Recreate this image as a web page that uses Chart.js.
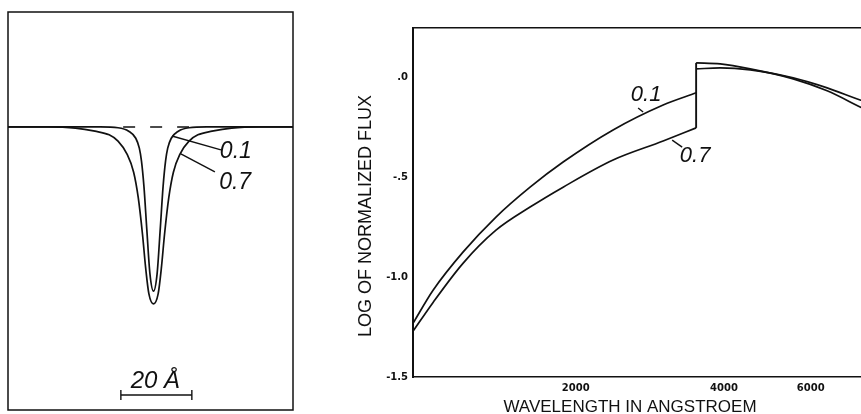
<!DOCTYPE html>
<html><head><meta charset="utf-8">
<script src="https://cdn.jsdelivr.net/npm/chart.js@4.4.0/dist/chart.umd.min.js"></script>
<style>
html,body{margin:0;padding:0;width:861px;height:414px;overflow:hidden;background:#fff;}
#left{position:absolute;left:0;top:0;}
#right{position:absolute;left:340px;top:0;}
</style></head><body>
<canvas id="left" width="300" height="414"></canvas>
<canvas id="right" width="580" height="432"></canvas>
<script>
// ---------- Left panel: line profiles (offset from line centre in Å, residual flux) ----------
const profileOffsets01 = [-41, -15, -10, -7.0, -5.0, -4.0, -3.4, -2.7, -1.9, -1.0, 0, 1.0, 1.9, 2.7, 3.4, 4.0, 5.0, 7.0, 10, 15, 39.3];
const profileFlux01    = [1.0, 1.0, 0.997, 0.985, 0.960, 0.925, 0.880, 0.790, 0.640, 0.480, 0.420, 0.480, 0.640, 0.790, 0.880, 0.925, 0.960, 0.985, 0.997, 1.0, 1.0];
const profileOffsets07 = [-41, -30, -22, -16.5, -12.5, -10.0, -7.5, -5.6, -4.3, -3.1, -2.2, -1.3, 0, 1.3, 2.2, 3.1, 4.3, 5.6, 7.5, 10.0, 12.5, 16.5, 22, 30, 39.3];
const profileFlux07    = [1.0, 1.0, 0.996, 0.985, 0.972, 0.950, 0.905, 0.840, 0.750, 0.620, 0.500, 0.410, 0.375, 0.410, 0.500, 0.620, 0.750, 0.840, 0.905, 0.950, 0.972, 0.985, 0.996, 1.0, 1.0];
const continuumOffsets = [-8.56, 10.0];
const continuumFlux    = [1.0, 1.0];
const scaleBarOffsets  = [-9.2, 10.8];
const scaleBarFlux     = [0.053, 0.053];
const scaleBarText     = '20 Å';

// ---------- Right panel: log of normalized flux vs wavelength ----------
const waveUV      = [935, 1027, 1181, 1378, 1616, 1886, 2382, 3010, 3512];
const logFlux01UV = [-1.231, -1.065, -0.874, -0.698, -0.548, -0.422, -0.261, -0.136, -0.075];
const logFlux07UV = [-1.271, -1.126, -0.930, -0.764, -0.648, -0.548, -0.412, -0.317, -0.251];
const waveVis      = [3512, 3930, 4522, 5528, 6479, 7559, 7778];
const logFlux01Vis = [0.045, 0.050, 0.040, 0.000, -0.050, -0.111, -0.121];
const logFlux07Vis = [0.075, 0.070, 0.045, -0.005, -0.065, -0.146, -0.161];
const xTickValues = [2000, 4000, 6000];
const xTickLabels = ['2000', '4000', '6000'];
const yTickValues = [0, -0.5, -1.0, -1.5];
const yTickLabels = ['.0', '-.5', '-1.0', '-1.5'];
const seriesNames = ['0.1', '0.7'];

const pts = (xs, ys) => xs.map((x, i) => ({x: x, y: ys[i]}));
const INK = '#111';

// annotation anchors (data coordinates)
const leftAnnot = [
  {text: seriesNames[0], x: 23.2, y: 0.912, lead: [[5.2, 0.968], [19.0, 0.919]]},
  {text: seriesNames[1], x: 23.0, y: 0.802, lead: [[7.7, 0.905], [17.3, 0.841]]}
];
const rightAnnot = [
  {text: seriesNames[0], x: 2780, y: -0.085, lead: [[2678, -0.151], [2741, -0.171]]},
  {text: seriesNames[1], x: 3496, y: -0.392, lead: [[3140, -0.312], [3290, -0.347]]}
];

function drawAnnots(chart, list, font) {
  const ctx = chart.ctx, xs = chart.scales.x, ys = chart.scales.y;
  ctx.save();
  ctx.strokeStyle = INK; ctx.fillStyle = INK; ctx.lineWidth = 1.4;
  ctx.font = font; ctx.textAlign = 'center'; ctx.textBaseline = 'middle';
  list.forEach(a => {
    ctx.beginPath();
    ctx.moveTo(xs.getPixelForValue(a.lead[0][0]), ys.getPixelForValue(a.lead[0][1]));
    ctx.lineTo(xs.getPixelForValue(a.lead[1][0]), ys.getPixelForValue(a.lead[1][1]));
    ctx.stroke();
    ctx.fillText(a.text, xs.getPixelForValue(a.x), ys.getPixelForValue(a.y));
  });
  ctx.restore();
}

const lineDs = (data, extra) => Object.assign({
  data: data, borderColor: INK, borderWidth: 1.7, pointRadius: 0,
  cubicInterpolationMode: 'monotone', fill: false
}, extra || {});

new Chart(document.getElementById('left'), {
  type: 'line',
  data: {datasets: [
    lineDs(pts(profileOffsets01, profileFlux01)),
    lineDs(pts(profileOffsets07, profileFlux07)),
    lineDs(pts(continuumOffsets, continuumFlux), {borderDash: [12, 15], borderWidth: 1.4}),
    lineDs(pts(scaleBarOffsets, scaleBarFlux), {borderWidth: 1.4, pointRadius: 5, pointStyle: 'line',
      pointRotation: 90, pointBorderWidth: 1.4, pointBorderColor: INK, cubicInterpolationMode: 'default', tension: 0})
  ]},
  options: {
    responsive: false, animation: false, devicePixelRatio: 1,
    layout: {padding: {left: 8, top: 12, right: 7, bottom: 4}, autoPadding: false},
    scales: {
      x: {type: 'linear', min: -41, max: 39.3, display: false},
      y: {type: 'linear', min: 0, max: 1.406, display: false}
    },
    plugins: {legend: {display: false}, tooltip: {enabled: false}}
  },
  plugins: [{
    id: 'leftDecor',
    afterDraw(chart) {
      const ctx = chart.ctx, ca = chart.chartArea;
      ctx.save();
      ctx.strokeStyle = INK; ctx.lineWidth = 1.5;
      ctx.strokeRect(ca.left, ca.top, ca.right - ca.left, ca.bottom - ca.top);
      ctx.restore();
      drawAnnots(chart, leftAnnot, 'italic 23px "Liberation Sans", sans-serif');
      const xs = chart.scales.x, ys = chart.scales.y;
      ctx.save();
      ctx.fillStyle = INK; ctx.font = 'italic 24px "Liberation Sans", sans-serif';
      ctx.textAlign = 'center'; ctx.textBaseline = 'alphabetic';
      const cx = xs.getPixelForValue((scaleBarOffsets[0] + scaleBarOffsets[1]) / 2) - 1;
      ctx.fillText(scaleBarText, cx, ys.getPixelForValue(scaleBarFlux[0]) - 7);
      ctx.restore();
    }
  }]
});

new Chart(document.getElementById('right'), {
  type: 'line',
  data: {datasets: [
    lineDs(pts(waveUV, logFlux01UV)),
    lineDs(pts(waveUV, logFlux07UV)),
    lineDs(pts(waveVis, logFlux01Vis)),
    lineDs(pts(waveVis, logFlux07Vis)),
    lineDs([{x: waveUV[waveUV.length - 1], y: logFlux07UV[logFlux07UV.length - 1]},
            {x: waveVis[0], y: logFlux07Vis[0]}], {cubicInterpolationMode: 'default', tension: 0, borderWidth: 1.9})
  ]},
  options: {
    responsive: false, animation: false, devicePixelRatio: 1,
    layout: {padding: 0, autoPadding: false},
    scales: {
      x: {
        type: 'logarithmic', position: 'bottom', min: 935, max: 10000,
        grid: {display: false, drawTicks: false},
        border: {display: true, color: INK, width: 1.6},
        afterBuildTicks: s => { s.ticks = xTickValues.map(v => ({value: v})); },
        afterFit: s => { s.height = 19.8; },
        ticks: {padding: 5, color: INK, maxRotation: 0, autoSkip: false,
          font: {family: 'DejaVu Sans', size: 10, weight: 'bold'},
          callback: (v, i) => xTickLabels[i]}
      },
      x2: {
        type: 'logarithmic', position: 'top', min: 935, max: 10000,
        grid: {display: false, drawTicks: false},
        border: {display: true, color: INK, width: 1.6},
        ticks: {display: false},
        afterFit: s => { s.height = 28; }
      },
      y: {
        type: 'linear', position: 'left', min: -1.5, max: 0.25,
        grid: {display: false, drawTicks: false},
        border: {display: true, color: INK, width: 2},
        afterBuildTicks: s => { s.ticks = yTickValues.map(v => ({value: v})); },
        afterFit: s => { s.width = 36.2; },
        ticks: {padding: 5, color: INK, autoSkip: false,
          font: {family: 'DejaVu Sans', size: 10, weight: 'bold'},
          callback: (v, i) => yTickLabels[i]}
      }
    },
    plugins: {
      legend: {display: false}, tooltip: {enabled: false},
      title: {display: true, position: 'bottom', text: 'WAVELENGTH IN ANGSTROEM', color: INK,
        font: {family: 'Liberation Sans', size: 17, weight: 'normal'}, padding: {top: 0, bottom: 14.8}},
      subtitle: {display: true, position: 'left', text: 'LOG OF NORMALIZED FLUX', color: INK,
        font: {family: 'Liberation Sans', size: 18, weight: 'normal'}, padding: {top: 15.2, bottom: 0}}
    }
  },
  plugins: [{
    id: 'rightDecor',
    afterDraw(chart) { drawAnnots(chart, rightAnnot, 'italic 22px "Liberation Sans", sans-serif'); }
  }]
});
</script>
</body></html>
